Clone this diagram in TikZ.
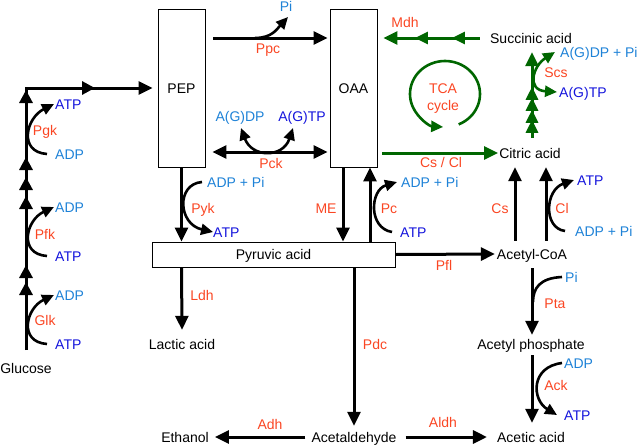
\documentclass[tikz,border=0pt]{standalone}
\usepackage{fontspec}
\setmainfont{Liberation Sans}
\usetikzlibrary{arrows.meta,decorations.markings}
\definecolor{enz}{RGB}{250,70,35}
\definecolor{atpc}{RGB}{20,20,220}
\definecolor{adpc}{RGB}{30,130,215}
\definecolor{tcag}{RGB}{0,102,0}
\begin{document}
\begin{tikzpicture}[x=1pt,y=-1pt,
  font=\fontsize{14}{16}\selectfont,
  every node/.style={inner sep=0pt, text height=10pt, text depth=0pt},
  enzl/.style={text=enz},
  atpl/.style={text=atpc, anchor=west},
  adpl/.style={text=adpc, anchor=west},
  rx/.style={line width=3pt, -{Triangle[length=14pt,width=13pt]}},
  grx/.style={rx, draw=tcag},
  side/.style={line width=2.6pt, -{Triangle[length=12pt,width=11pt]}},
  sideplain/.style={line width=2.6pt},
  box/.style={draw, line width=0.9pt, fill=white},
  midtips/.style={postaction={decorate}, decoration={markings, #1}}]
\useasboundingbox (0,0) rectangle (638,445);

% boxes
\node[box, minimum width=47pt, minimum height=158pt] (pep) at (181.5,88) {PEP};
\node[box, minimum width=47pt, minimum height=158pt] (oaa) at (353.5,88) {OAA};
\node[box, minimum width=243pt, minimum height=25pt] (pyr) at (273.5,254.5) {Pyruvic acid};

% metabolites
\node (glc) at (26,368) {Glucose};
\node (lac) at (182,344) {Lactic acid};
\node (eth) at (185,437) {Ethanol};
\node (acald) at (354,437) {Acetaldehyde};
\node (acet) at (531,437) {Acetic acid};
\node (acp) at (531,344) {Acetyl phosphate};
\node (accoa) at (532,254) {Acetyl-CoA};
\node (cit) at (530,153) {Citric acid};
\node (suc) at (531,38) {Succinic acid};

% enzymes
\node[enzl] (glk) at (45,320) {Glk};
\node[enzl] (pfk) at (45,234) {Pfk};
\node[enzl] (pgk) at (45,130) {Pgk};
\node[enzl] (ppc) at (268,48) {Ppc};
\node[enzl] (pck) at (271,163) {Pck};
\node[enzl] (pyk) at (203,208) {Pyk};
\node[enzl] (me) at (326,208) {ME};
\node[enzl] (pc) at (389,208) {Pc};
\node[enzl] (cscl) at (441,162) {Cs / Cl};
\node[enzl] (mdh) at (405,22) {Mdh};
\node[enzl] (scs) at (556,72) {Scs};
\node[enzl] (cs) at (500,208) {Cs};
\node[enzl] (cl) at (562,208) {Cl};
\node[enzl] (pfl) at (444,265) {Pfl};
\node[enzl] (pta) at (555,303) {Pta};
\node[enzl] (ack) at (556,385) {Ack};
\node[enzl] (ldh) at (202,295) {Ldh};
\node[enzl] (pdc) at (375,344) {Pdc};
\node[enzl] (adh) at (270,424) {Adh};
\node[enzl] (aldh) at (443,422) {Aldh};
\node[enzl] (tca) at (443,88) {TCA};
\node[enzl] (cyc) at (443,105) {cycle};

% cofactors
\node[atpl] (glkatp) at (55,344) {ATP};
\node[adpl] (glkadp) at (55,295) {ADP};
\node[atpl] (pfkatp) at (55,256) {ATP};
\node[adpl] (pfkadp) at (55,207) {ADP};
\node[adpl] (pgkadp) at (55,154) {ADP};
\node[atpl] (pgkatp) at (55,104) {ATP};
\node[text=adpc] (ppcpi) at (286,6) {Pi};
\node[text=adpc] (agdp) at (240,116) {A(G)DP};
\node[text=atpc] (agtp) at (302,116) {A(G)TP};
\node[adpl] (pykadp) at (207,182) {ADP + Pi};
\node[atpl] (pykatp) at (213,232) {ATP};
\node[adpl] (pcadp) at (401,182) {ADP + Pi};
\node[atpl] (pcatp) at (400,232) {ATP};
\node[atpl] (clatp) at (577,180) {ATP};
\node[adpl] (cladp) at (575,231) {ADP + Pi};
\node[adpl] (scsadp) at (560,52) {A(G)DP + Pi};
\node[atpl] (scsatp) at (559,92) {A(G)TP};
\node[adpl] (ptapi) at (565,277) {Pi};
\node[adpl] (ackadp) at (564,363) {ADP};
\node[atpl] (ackatp) at (564,415) {ATP};

% coordinates
\coordinate (g0) at (26,350);
\coordinate (corner) at (26,88);

% glycolysis chain
\draw[rx, midtips={
  mark=at position 68pt with {\arrow{Triangle[length=13pt,width=13pt]}},
  mark=at position 85pt with {\arrow{Triangle[length=13pt,width=13pt]}},
  mark=at position 154pt with {\arrow{Triangle[length=13pt,width=13pt]}},
  mark=at position 173pt with {\arrow{Triangle[length=13pt,width=13pt]}},
  mark=at position 193pt with {\arrow{Triangle[length=13pt,width=13pt]}},
  mark=at position 260pt with {\arrow{Triangle[length=13pt,width=13pt]}},
  mark=at position 331pt with {\arrow{Triangle[length=13pt,width=13pt]}}}]
  (g0) -- (corner) -- ([xshift=-5pt]pep.west);

\draw[side] ([xshift=-8pt]glkatp.west) .. controls (18,342) and (26,308) .. ([xshift=-1pt]glkadp.west);
\draw[side] ([xshift=-8pt]pfkatp.west) .. controls (18,254) and (26,220) .. ([xshift=-1pt]pfkadp.west);
\draw[side] ([xshift=-8pt]pgkadp.west) .. controls (18,152) and (26,118) .. ([xshift=-1pt]pgkatp.west);

% PEP -> OAA (Ppc)
\draw[rx] ([xshift=8pt]pep.east |- 0,38) -- ([xshift=-2pt]oaa.west |- 0,38);
\draw[side] (255,38) .. controls (272,38) and (277,29) .. ([shift={(2,11)}]ppcpi.center);

% Pck
\draw[line width=3pt, {Triangle[length=14pt,width=13pt]}-{Triangle[length=14pt,width=13pt]}]
  ([xshift=7pt]pep.east |- 0,152) -- ([xshift=-2pt]oaa.west |- 0,152);
\draw[line width=2.6pt, {Triangle[length=12pt,width=11pt]}-{Triangle[length=12pt,width=11pt]}]
  ([shift={(1,12)}]agdp.center) .. controls (252,158) and (283,158) .. ([shift={(-9,12)}]agtp.center);

% PEP -> Pyruvate (Pyk)
\draw[rx] (pep.south) -- (pep.south |- pyr.north);
\draw[side] ([xshift=-5pt]pykadp.west) .. controls (176,184) and (178,224) .. (pykatp.west);

% OAA <-> Pyruvate
\draw[rx] ([xshift=-10.5pt]oaa.south) -- ([xshift=-10.5pt]oaa.south |- pyr.north);
\draw[rx] ([xshift=16.5pt]oaa.south |- pyr.north) -- ([xshift=16.5pt]oaa.south);
\draw[side] ([xshift=-8pt]pcatp.west) .. controls (368,228) and (370,190) .. ([xshift=-4pt]pcadp.west);

% Pyruvate branches
\draw[rx] (pep.south |- pyr.south) -- ([shift={(0,-9)}]lac.north);
\draw[rx] ([xshift=80.5pt]pyr.south) -- ([shift={(0,-6)}]acald.north);
\draw[rx] ([xshift=-6pt]acald.west) -- ([xshift=6pt]eth.east);
\draw[rx] ([xshift=9pt]acald.east) -- ([xshift=-10pt]acet.west);
\draw[rx] (pyr.east) -- ([xshift=-2pt]accoa.west);

% Acetyl-CoA branches
\draw[rx] ([shift={(-17,-8)}]accoa.north) -- ([shift={(-15,9)}]cit.south);
\draw[rx] ([shift={(14,-8)}]accoa.north) -- ([shift={(16,9)}]cit.south);
\draw[side] ([xshift=-10pt]cladp.west) .. controls (543,228) and (545,190) .. ([xshift=-3pt]clatp.west);
\draw[rx] ([shift={(0,9)}]accoa.south) -- ([shift={(1,-4)}]acp.north);
\draw[sideplain] ([xshift=-3pt]ptapi.west) .. controls (540,278) and (533,288) .. (533,302);
\draw[rx] ([shift={(1,6)}]acp.south) -- ([shift={(1,-9)}]acet.north);
\draw[side] ([xshift=-2pt]ackadp.west) .. controls (530,367) and (532,400) .. ([xshift=-7pt]ackatp.west);

% TCA (green)
\draw[grx] ([xshift=5pt]oaa.east |- cit.west) -- ([xshift=-1pt]cit.west);
\draw[grx, midtips={
  mark=at position 28pt with {\arrow{Triangle[length=13pt,width=12pt]}},
  mark=at position 65pt with {\arrow{Triangle[length=13pt,width=12pt]}}}]
  ([xshift=-10pt]suc.west) -- ([xshift=6pt]oaa.east |- suc.west);
\draw[grx, midtips={
  mark=at position 18pt with {\arrow{Triangle[length=13pt,width=12pt]}},
  mark=at position 28pt with {\arrow{Triangle[length=13pt,width=12pt]}},
  mark=at position 40pt with {\arrow{Triangle[length=13pt,width=12pt]}},
  mark=at position 51pt with {\arrow{Triangle[length=13pt,width=12pt]}}}]
  ([shift={(2,-10)}]cit.north) -- ([shift={(1,9)}]suc.south);
\draw[line width=2.6pt, draw=tcag, {Triangle[length=12pt,width=11pt]}-{Triangle[length=12pt,width=11pt]}]
  ([xshift=-5pt]scsadp.west) .. controls (533,66) and (526,90) .. ([xshift=-2pt]scsatp.west);
\draw[line width=2.6pt, draw=tcag, -{Triangle[length=12pt,width=11pt]}]
  ([shift={(67:35 and 33)}]445,94) arc[start angle=67, end angle=-267, x radius=35, y radius=33];
\end{tikzpicture}
\end{document}
